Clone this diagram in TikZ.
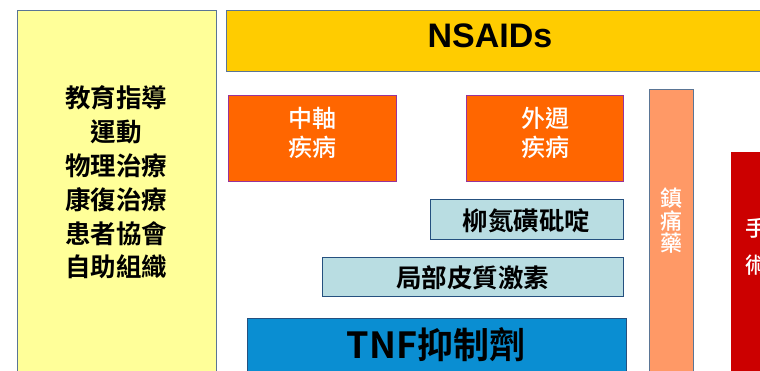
\documentclass[tikz,border=0pt]{standalone}
\usepackage{fontspec}
\setmainfont{Liberation Sans}
\newfontfamily\cjkb{Noto Sans CJK TC Bold}
\newfontfamily\cjkm{Noto Sans CJK TC Medium}
\begin{document}
\begin{tikzpicture}[x=1pt,y=-1pt,
  box/.style={draw, line width=1pt, inner sep=0pt, anchor=north west},
  yel/.style={box, fill=yel, draw=edge},
  nsaid/.style={box, fill=gold, draw=edge},
  ora/.style={box, fill=ora, draw=purp},
  lblue/.style={box, fill=lbl, draw=dblue},
  tnf/.style={box, fill=tnfc, draw=dblue},
  peach/.style={box, fill=peachc, draw=edge},
  redb/.style={box, fill=redc, draw=redc},
  blk/.style={font=\cjkb\fontsize{25.5}{33.8}\selectfont, text=black, align=center},
  wht/.style={font=\cjkm\fontsize{24}{29}\selectfont, text=white, align=center},
  vwht/.style={font=\cjkm\fontsize{22}{22.5}\selectfont, text=white, align=center}
]
\definecolor{yel}{HTML}{FFFF99}
\definecolor{edge}{HTML}{5A7595}
\definecolor{gold}{HTML}{FFCC00}
\definecolor{ora}{HTML}{FF6600}
\definecolor{purp}{HTML}{993399}
\definecolor{lbl}{HTML}{B9DDE2}
\definecolor{dblue}{HTML}{25507F}
\definecolor{tnfc}{HTML}{0A8ED2}
\definecolor{peachc}{HTML}{FF9966}
\definecolor{redc}{HTML}{CC0000}
\useasboundingbox (0,0) rectangle (760,371);
\clip (0,0) rectangle (760,371);

\node[yel, minimum width=199pt, minimum height=380pt] (left) at (17,10) {};
\node[blk] (lefttext) at (116,182.5) {教育指導\\運動\\物理治療\\康復治療\\患者協會\\自助組織};

\node[nsaid, minimum width=560pt, minimum height=61pt] (nsaid) at (226,10) {};
\node[font=\bfseries\fontsize{34}{34}\selectfont] (nsaidtext) at (490,36) {NSAIDs};

\node[ora, minimum width=168pt, minimum height=86pt] (axial) at (228,95) {};
\node[wht] (axialtext) at ([yshift=6pt]axial.center) {中軸\\疾病};

\node[ora, minimum width=157pt, minimum height=86pt] (periph) at (466,95) {};
\node[wht] (periphtext) at ([yshift=6pt]periph.center) {外週\\疾病};

\node[lblue, minimum width=193pt, minimum height=40pt] (ssz) at (430,199) {};
\node[blk] (ssztext) at ([xshift=-0.5pt,yshift=-1pt]ssz.center) {柳氮磺砒啶};

\node[lblue, minimum width=301pt, minimum height=39pt] (steroid) at (322,257) {};
\node[blk] (steroidtext) at ([xshift=-0.5pt,yshift=-1pt]steroid.center) {局部皮質激素};

\node[tnf, minimum width=379pt, minimum height=70pt] (tnf) at (247,318) {};
\node[font=\cjkb\fontsize{36}{36}\selectfont] (tnftext) at (436,345) {TNF抑制劑};

\node[peach, minimum width=44pt, minimum height=300pt] (analg) at (649,89) {};
\node[vwht] (analgtext) at (671,221) {鎮\\痛\\藥};

\node[redb, minimum width=60pt, minimum height=230pt] (surg) at (731,152) {};
\node[vwht, font=\cjkm\fontsize{22}{37}\selectfont] (surgtext) at (756.5,246.5) {手\\術};
\end{tikzpicture}
\end{document}
